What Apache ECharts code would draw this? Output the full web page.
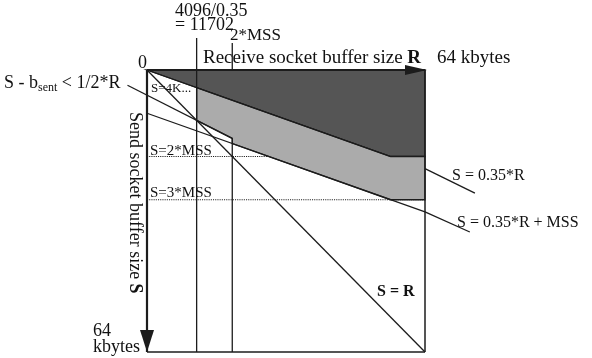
<!DOCTYPE html>
<html>
<head>
<meta charset="utf-8">
<script src="https://cdn.jsdelivr.net/npm/echarts@6/dist/echarts.min.js"></script>
<style>
  html, body { margin: 0; padding: 0; background: #fff; }
  #chart { width: 592px; height: 358px; }
</style>
</head>
<body>
<div id="chart"></div>
<script>
// Socket buffer sizes in bytes: receive buffer R runs to the right, send buffer S runs down.
const R_MAX = 65536;   // 64 kbytes
const S_MAX = 65536;   // 64 kbytes
const MSS = 10050;

// Boundary lines as [R, S] end points
const lineSR      = [[0, 0], [65536, 65536]];                      // S = R
const line035R    = [[0, 0], [57429, 20100]];                      // S = 0.35*R, until S = 2*MSS
const lead035R    = [[65536, 22938], [77300, 28600]];              // leader to the S = 0.35*R label
const line035RMSS = [[0, 10050], [65536, 32988], [76100, 37650]];  // S = 0.35*R + MSS
const lineHalfR   = [[-4600, 3550], [20100, 15901]];               // S - b_sent < 1/2*R
const vert11702   = [[11702, -7440], [11702, 65536]];              // R = 4096/0.35
const vert2MSSTop = [[20100, -6270], [20100, 0]];                  // R = 2*MSS tick
const vert2MSS    = [[20100, 15901], [20100, 65536]];
const dotted2MSS  = [[0, 20100], [65536, 20100]];                  // S = 2*MSS
const dotted3MSS  = [[0, 30150], [65536, 30150]];                  // S = 3*MSS
const boxRight    = [[65536, 0], [65536, 65536]];
const boxBottom   = [[0, 65536], [65536, 65536]];
const axisR       = [[0, 0], [65536, 0]];
const axisS       = [[0, 0], [0, 65536]];
const arrowTips   = [[65536, 0], [0, 65536]];

// Shaded regions
const darkRegion  = [[0, 0], [65536, 0], [65536, 20100], [57429, 20100]];
const lightRegion = [[11702, 4096], [57429, 20100], [65536, 20100], [65536, 30150],
                     [57429, 30150], [20100, 17085], [20100, 15901], [11702, 11702]];

// The plotting square sits at left 147, top 70, 278 x 282 px; the axes span the
// whole canvas so leaders and ticks outside the square use the same scales.
const W = 592, H = 358, BOX_L = 147, BOX_T = 70, BOX_W = 278, BOX_H = 282;
const perPxR = R_MAX / BOX_W, perPxS = S_MAX / BOX_H;
const xMin = -BOX_L * perPxR, xMax = (W - BOX_L) * perPxR;
const yMin = -BOX_T * perPxS, yMax = (H - BOX_T) * perPxS;

const INK = '#1c1c1c';
const SERIF = '"Liberation Serif", "DejaVu Serif", serif';

function seg(data, width, z, type) {
  return {
    type: 'line', data: data, symbol: 'none', clip: false, silent: true,
    z: z, lineStyle: { color: INK, width: width, type: type || 'solid' }
  };
}

function region(points, color) {
  return {
    type: 'custom', coordinateSystem: 'cartesian2d', data: points, z: 2, silent: true,
    encode: { x: 0, y: 1 },
    renderItem: function (params, api) {
      if (params.dataIndex !== 0) return null;
      return {
        type: 'polygon',
        shape: { points: points.map(function (p) { return api.coord(p); }) },
        style: { fill: color, stroke: INK, lineWidth: 1.3 }
      };
    }
  };
}

const arrows = {
  type: 'custom', coordinateSystem: 'cartesian2d', data: arrowTips, z: 6, silent: true,
  encode: { x: 0, y: 1 },
  renderItem: function (params, api) {
    const t = api.coord([api.value(0), api.value(1)]);
    let pts;
    if (params.dataIndex === 0) {
      const x = t[0] + 2;
      pts = [[x, t[1]], [x - 22, t[1] - 5], [x - 22, t[1] + 5]];
    } else {
      pts = [[t[0], t[1]], [t[0] - 7, t[1] - 22], [t[0] + 7, t[1] - 22]];
    }
    return { type: 'polygon', shape: { points: pts }, style: { fill: INK } };
  }
};

function textStyle(text, size, extra) {
  return Object.assign({
    text: text, fill: '#111', fontSize: size, fontFamily: SERIF,
    align: 'left', verticalAlign: 'middle', textAlign: 'left', textVerticalAlign: 'middle'
  }, extra || {});
}

function label(x, y, text, size, extra) {
  return { type: 'text', x: x, y: y, silent: true, z: 10, style: textStyle(text, size, extra) };
}

const chart = echarts.init(document.getElementById('chart'), null, { renderer: 'canvas' });
chart.setOption({
  animation: false,
  backgroundColor: '#fff',
  grid: { left: 0, top: 0, width: W, height: H },
  xAxis: { type: 'value', min: xMin, max: xMax, show: false },
  yAxis: { type: 'value', min: yMin, max: yMax, inverse: true, show: false },
  series: [
    seg(dotted2MSS, 1.1, 1, 'dotted'),
    seg(dotted3MSS, 1.1, 1, 'dotted'),
    region(darkRegion, '#555555'),
    region(lightRegion, '#ababab'),
    seg(lineSR, 1.3, 3),
    seg(line035R, 1.3, 3),
    seg(lead035R, 1.3, 3),
    seg(line035RMSS, 1.3, 3),
    seg(lineHalfR, 1.3, 3),
    seg(vert11702, 1.3, 3),
    seg(vert2MSSTop, 1.3, 3),
    seg(vert2MSS, 1.3, 3),
    seg(boxRight, 1.5, 3),
    seg(boxBottom, 1.5, 3),
    seg(axisR, 2.2, 4),
    seg(axisS, 2.2, 4),
    arrows
  ],
  graphic: [
    label(175, 11, '4096/0.35', 18),
    label(175, 25, '= 11702', 18),
    label(230, 36, '2*MSS', 17),
    label(138, 63, '0', 18),
    label(203, 58, 'Receive socket buffer size {b|R}', 19, {
      rich: { b: { fontSize: 19, fontFamily: SERIF, fontWeight: 'bold', fill: '#111' } }
    }),
    label(437, 58, '64 kbytes', 19),
    label(4, 83, '{m|S - b}{s|sent}{m| < 1/2*R}', 18, {
      rich: {
        m: { fontSize: 18, fontFamily: SERIF, lineHeight: 22, fill: '#111' },
        s: { fontSize: 12, fontFamily: SERIF, lineHeight: 12, verticalAlign: 'bottom', fill: '#111' }
      }
    }),
    label(151, 89, 'S=4K...', 13),
    label(150, 151, 'S=2*MSS', 15),
    label(150, 193, 'S=3*MSS', 15),
    label(452, 176, 'S = 0.35*R', 16),
    label(457, 223, 'S = 0.35*R + MSS', 16),
    label(377, 292, 'S = R', 16, { fontWeight: 'bold' }),
    {
      type: 'text', x: 135, y: 112, rotation: -Math.PI / 2, silent: true, z: 10,
      style: textStyle('Send socket buffer size {b|S}', 18, {
        rich: { b: { fontSize: 18, fontFamily: SERIF, fontWeight: 'bold', fill: '#111' } }
      })
    },
    label(93, 331, '64', 18),
    label(93, 347, 'kbytes', 18)
  ]
});
</script>
</body>
</html>
